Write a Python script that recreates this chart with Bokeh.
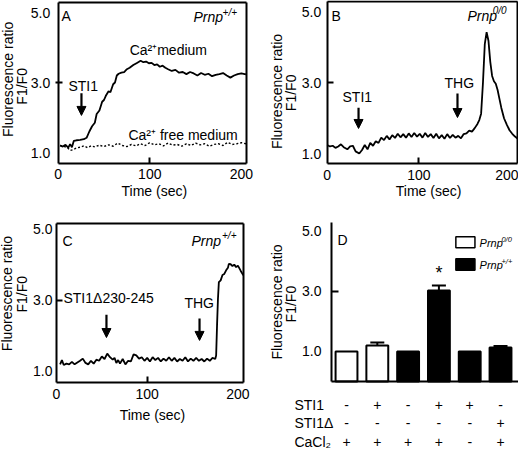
from bokeh.plotting import figure
from bokeh.models import (Range1d, FixedTicker, LinearAxis, Arrow, NormalHead,
                          ColumnDataSource, Whisker, TeeHead)
from bokeh.layouts import row, column
from bokeh.embed import file_html
from bokeh.resources import INLINE
from bokeh.core.properties import value

# ---------------- data ----------------
# Panel A: Prnp+/+, STI1 in Ca2+ medium and Ca2+-free medium
a_t = [2, 5, 8, 11, 13, 15, 17, 20, 24, 28, 31, 34, 37, 40, 42, 45, 48, 50, 52, 55,
       57, 60, 62, 64, 66, 69, 72, 75, 78, 82, 86, 90, 93, 96, 99, 102, 105, 108, 111,
       114, 117, 120, 124, 128, 132, 136, 140, 144, 148, 152, 156, 160, 164, 168, 172,
       176, 180, 184, 188, 192, 196, 200, 205]
a_ca = [1.2, 1.17, 1.22, 1.14, 1.24, 1.15, 1.33, 1.35, 1.36, 1.38, 1.42, 1.6, 1.75, 1.85,
        2.1, 2.2, 2.45, 2.5, 2.62, 2.75, 2.72, 2.95, 3.0, 3.2, 3.25, 3.28, 3.3, 3.38, 3.42,
        3.5, 3.56, 3.62, 3.58, 3.6, 3.55, 3.56, 3.5, 3.52, 3.45, 3.48, 3.42, 3.38, 3.33,
        3.36, 3.28, 3.3, 3.24, 3.3, 3.26, 3.2, 3.27, 3.22, 3.25, 3.18, 3.22, 3.24, 3.27,
        3.2, 3.14, 3.2, 3.24, 3.26, 3.23]
a_free_t = [2, 6, 10, 13, 16, 20, 24, 28, 32, 36, 40, 45, 50, 55, 60, 65, 70, 75, 80, 85,
            90, 95, 100, 105, 110, 115, 120, 125, 130, 135, 140, 145, 150, 155, 160, 165,
            170, 175, 180, 185, 190, 195, 200, 205]
a_free = [1.2, 1.18, 1.14, 1.06, 1.08, 1.13, 1.15, 1.19, 1.14, 1.19, 1.16, 1.21, 1.17,
          1.22, 1.18, 1.27, 1.2, 1.17, 1.23, 1.19, 1.25, 1.2, 1.28, 1.22, 1.25, 1.19, 1.27,
          1.21, 1.23, 1.18, 1.25, 1.2, 1.27, 1.22, 1.25, 1.18, 1.23, 1.25, 1.2, 1.29, 1.23,
          1.25, 1.28, 1.25]

# Panel B: Prnp0/0, STI1 then THG
b_t = [0, 3, 6, 9, 12, 15, 18, 22, 25, 28, 31, 35, 38, 41, 44, 47, 50, 53, 56, 59, 62,
       65, 68, 71, 74, 77, 80, 83, 86, 89, 92, 95, 98, 101, 104, 107, 110, 113, 116, 119,
       122, 125, 128, 131, 134, 137, 140, 143, 146, 149, 152, 155, 158, 161, 164, 166,
       168, 170, 172, 174, 176, 178, 180, 182, 184, 186, 188, 190, 193, 196, 199, 202,
       205, 208]
b_v = [1.24, 1.2, 1.22, 1.16, 1.2, 1.26, 1.18, 1.12, 1.2, 1.22, 1.06, 1.0, 1.1, 1.24,
       1.12, 1.3, 1.22, 1.35, 1.3, 1.45, 1.38, 1.5, 1.4, 1.52, 1.44, 1.56, 1.46, 1.55,
       1.45, 1.57, 1.47, 1.58, 1.48, 1.56, 1.45, 1.58, 1.47, 1.55, 1.44, 1.56, 1.43, 1.52,
       1.42, 1.55, 1.44, 1.53, 1.45, 1.5, 1.43, 1.55, 1.57, 1.65, 1.62, 1.72, 1.84, 1.95,
       2.13, 3.0, 4.1, 4.44, 4.2, 3.6, 3.2, 3.05, 2.98, 2.8, 2.55, 2.3, 2.0, 1.82, 1.66,
       1.56, 1.48, 1.42]

# Panel C: Prnp+/+, STI1 delta230-245 then THG
c_t = [4, 6, 8, 11, 14, 17, 20, 23, 26, 29, 32, 35, 38, 41, 44, 47, 50, 53, 56, 59, 62,
       64, 66, 68, 70, 73, 76, 79, 82, 85, 88, 91, 94, 97, 100, 103, 106, 109, 112, 115,
       118, 121, 124, 127, 130, 133, 136, 139, 142, 145, 148, 151, 154, 157, 160, 163,
       166, 169, 172, 175, 176, 177, 178, 179, 181, 183, 185, 187, 189, 190, 192, 194,
       196, 198, 200, 203, 206]
c_v = [1.2, 1.32, 1.18, 1.22, 1.2, 1.27, 1.2, 1.25, 1.3, 1.36, 1.24, 1.2, 1.3, 1.22, 1.33,
       1.3, 1.42, 1.35, 1.5, 1.4, 1.33, 1.38, 1.24, 1.32, 1.22, 1.35, 1.2, 1.3, 1.28, 1.48,
       1.45, 1.36, 1.4, 1.3, 1.38, 1.28, 1.4, 1.32, 1.38, 1.28, 1.36, 1.3, 1.4, 1.3, 1.38,
       1.28, 1.35, 1.3, 1.4, 1.28, 1.36, 1.3, 1.38, 1.3, 1.35, 1.28, 1.36, 1.3, 1.38, 1.35,
       1.45, 2.29, 3.03, 3.5, 3.55, 3.7, 3.73, 3.83, 3.9, 4.01, 4.0, 3.95, 3.99, 3.92,
       3.96, 3.82, 3.69]

# Panel D: bar summary
d_pos = [1, 2, 3, 4, 5, 6]
d_values = [1.0, 1.2, 1.0, 3.03, 1.0, 1.13]
d_errors = [0.0, 0.1, 0.0, 0.17, 0.0, 0.05]
d_genotype = ["0/0", "0/0", "+/+", "+/+", "+/+", "+/+"]
row_names = ["STI1", "STI1\u0394", "CaCl\u2082"]
sti1_row = ["-", "+", "-", "+", "+", "-"]
sti1d_row = ["-", "-", "-", "-", "-", "+"]
cacl2_row = ["+", "+", "+", "+", "-", "+"]

y_ticks = [1, 3, 5]
y_tick_labels = ["1.0", "3.0", "5.0"]
x_ticks = [0, 100, 200]
x_tick_labels = ["0", "100", "200"]

# ---------------- styling ----------------
FONT = "Liberation Sans"
FS = "14px"
SUP = "10px"


def make_fig(w, h, xr, yr):
    # the frame fills the whole canvas; axes are placed at fixed data locations
    p = figure(width=w, height=h, min_border_left=0, min_border_right=0,
               min_border_top=0, min_border_bottom=0,
               x_range=Range1d(*xr), y_range=Range1d(*yr), title=None,
               output_backend="svg", toolbar_location=None, tools="")
    p.grid.visible = False
    p.outline_line_color = None
    p.background_fill_color = "white"
    p.border_fill_color = "white"
    return p


def style_axis(ax):
    ax.axis_line_width = 2
    ax.axis_line_color = "black"
    ax.major_tick_line_color = None
    ax.major_tick_in = 0
    ax.major_tick_out = 0
    ax.minor_tick_line_color = "black"
    ax.minor_tick_line_width = 2
    ax.major_label_text_font = FONT
    ax.major_label_text_font_size = FS
    ax.major_label_text_color = "black"


def plain_axis(p, side, loc, bounds):
    ax = LinearAxis(fixed_location=loc, bounds=bounds, ticker=FixedTicker(ticks=[]))
    style_axis(ax)
    ax.minor_tick_line_color = None
    ax.major_label_text_font_size = "0px"
    p.add_layout(ax, side)


def box_axes(p, x0, x1, y0, y1, ytick_in=6, ytick_out=0, ystand=5, xstand=6,
             full_box=True, xticks=True):
    yax = p.yaxis[0]
    style_axis(yax)
    yax.fixed_location = x0
    yax.bounds = (y0, y1)
    yax.ticker = FixedTicker(ticks=y_ticks, minor_ticks=[3])
    yax.major_label_overrides = dict(zip(y_ticks, y_tick_labels))
    yax.minor_tick_in = ytick_in
    yax.minor_tick_out = ytick_out
    yax.major_label_standoff = ystand
    xax = p.xaxis[0]
    style_axis(xax)
    xax.fixed_location = y0
    xax.bounds = (x0, x1)
    if xticks:
        xax.ticker = FixedTicker(ticks=x_ticks, minor_ticks=[100])
        xax.major_label_overrides = dict(zip(x_ticks, x_tick_labels))
        xax.minor_tick_in = 6
        xax.minor_tick_out = 0
        xax.major_label_standoff = xstand
    else:
        xax.ticker = FixedTicker(ticks=[])
        xax.major_label_text_font_size = "0px"
    if full_box:
        plain_axis(p, "right", x1, (y0, y1))
        plain_axis(p, "above", y1, (x0, x1))


def txt(p, x, y, s, size=FS, align="left", style="normal", angle=0):
    p.text(x=[x], y=[y], text=[s], text_font=value(FONT), text_font_size=value(size),
           text_align=value(align), text_baseline=value("middle"),
           text_font_style=value(style), text_color="black", angle=angle)


def ylabel(p, x1, y1, x2, y2):
    txt(p, x1, y1, "Fluorescence ratio", align="center", angle=1.5708)
    txt(p, x2, y2, "F1/F0", align="center", angle=1.5708)


def arrow(p, x, y0, y1):
    p.add_layout(Arrow(end=NormalHead(size=9, fill_color="black", line_color="black"),
                       x_start=x, y_start=y0, x_end=x, y_end=y1,
                       line_width=2.2, line_color="black"))


W1, W2 = 259, 259
H1, H2 = 219, 230

# ---------------- panel A ----------------
pa = make_fig(W1, H1, (-63.0, 219.8), (-0.914, 5.343))
box_axes(pa, 0, 205.5, 0.686, 5.30, ytick_in=4, ytick_out=3)
pa.line(a_t, a_ca, line_color="black", line_width=1.8)
pa.line(a_free_t, a_free, line_color="black", line_width=1.4, line_dash="2 2")
txt(pa, 3.6, 4.89, "A")
txt(pa, 147.7, 4.86, "Prnp", style="italic")
txt(pa, 179.5, 5.0, "+/+", size=SUP, style="italic")
txt(pa, 78, 3.94, "Ca\u00b2\u207amedium")
txt(pa, 11.2, 2.89, "STI1")
arrow(pa, 25.4, 2.69, 2.06)
txt(pa, 76.7, 1.49, "Ca\u00b2\u207a free medium")
txt(pa, 105, -0.114, "Time (sec)", align="center")
ylabel(pa, -55.3, 3.09, -39, 2.89)

# ---------------- panel B ----------------
pb = make_fig(W2, H1, (-73.9, 208.8), (-0.872, 5.34))
box_axes(pb, 0, 207.8, 0.716, 5.30, ystand=6)
pb.line(b_t, b_v, line_color="black", line_width=1.8)
txt(pb, 4.7, 4.89, "B")
txt(pb, 153, 4.91, "Prnp", style="italic")
txt(pb, 180.6, 5.06, "0/0", size=SUP, style="italic")
txt(pb, 16.7, 2.59, "STI1")
arrow(pb, 34.2, 2.30, 1.71)
txt(pb, 128, 2.99, "THG")
arrow(pb, 142.2, 2.70, 2.02)
txt(pb, 110.6, -0.07, "Time (sec)", align="center")
ylabel(pb, -54.8, 2.76, -39, 2.72)

# ---------------- panel C ----------------
pc = make_fig(W1, H2, (-61.7, 223.8), (-1.182, 5.252))
box_axes(pc, 0, 206.2, 0.692, 5.14, ystand=4)
pc.line(c_t, c_v, line_color="black", line_width=1.8)
txt(pc, 6.6, 4.66, "C")
txt(pc, 148.8, 4.66, "Prnp", style="italic")
txt(pc, 182.5, 4.8, "+/+", size=SUP, style="italic")
txt(pc, 7.7, 3.07, "STI1\u0394230-245")
arrow(pc, 55.1, 2.59, 1.95)
txt(pc, 141, 2.93, "THG")
arrow(pc, 157.7, 2.48, 1.87)
txt(pc, 105.8, -0.21, "Time (sec)", align="center")
ylabel(pc, -54, 3.18, -38, 3.16)

# ---------------- panel D ----------------
pd_ = make_fig(W2, H2, (-1.825, 6.584), (-2.267, 5.4))
box_axes(pd_, 0.513, 6.584, 0, 5.3, ytick_in=7, ystand=10, full_box=False,
         xticks=False)
colors = ["white" if g == "0/0" else "black" for g in d_genotype]
src = ColumnDataSource(dict(x=d_pos, top=d_values, color=colors))
pd_.vbar(x="x", top="top", width=0.71, bottom=0, fill_color="color",
         line_color="black", line_width=2, source=src)
ex = [x for x, e in zip(d_pos, d_errors) if e > 0]
elo = [v for v, e in zip(d_values, d_errors) if e > 0]
ehi = [v + e for v, e in zip(d_values, d_errors) if e > 0]
esrc = ColumnDataSource(dict(x=ex, lo=elo, hi=ehi))
pd_.add_layout(Whisker(base="x", lower="lo", upper="hi", source=esrc,
                       upper_head=TeeHead(size=14, line_width=2, line_color="black"),
                       lower_head=None, line_width=2, line_color="black"))
txt(pd_, 4, 3.63, "*", size="18px", align="center")
txt(pd_, 0.71, 4.7, "D")
# legend
pd_.rect(x=[4.86, 4.86], y=[4.64, 3.9], width=0.62, height=[0.37, 0.39],
         fill_color=["white", "black"], line_color="black", line_width=1.5)
txt(pd_, 5.32, 4.62, "Prnp", size="11px", style="italic")
txt(pd_, 6.03, 4.74, "0/0", size="7.5px", style="italic")
txt(pd_, 5.32, 3.89, "Prnp", size="11px", style="italic")
txt(pd_, 6.03, 4.01, "+/+", size="7.5px", style="italic")
# condition table under the bars
row_y = [-0.8, -1.4, -2.03]
pd_.text(x=[-0.69] * 3, y=row_y, text=row_names, text_font=value(FONT),
         text_font_size=value(FS), text_align=value("left"),
         text_baseline=value("middle"), text_color="black")
for yy, signs in zip(row_y, [sti1_row, sti1d_row, cacl2_row]):
    pd_.text(x=d_pos, y=[yy] * len(d_pos), text=signs, text_font=value(FONT),
             text_font_size=value(FS), text_align=value("center"),
             text_baseline=value("middle"), text_color="black")
ylabel(pd_, -1.27, 2.65, -0.79, 2.58)

layout = column(row(pa, pb), row(pc, pd_))
open("out.html", "w").write(file_html(layout, INLINE))
